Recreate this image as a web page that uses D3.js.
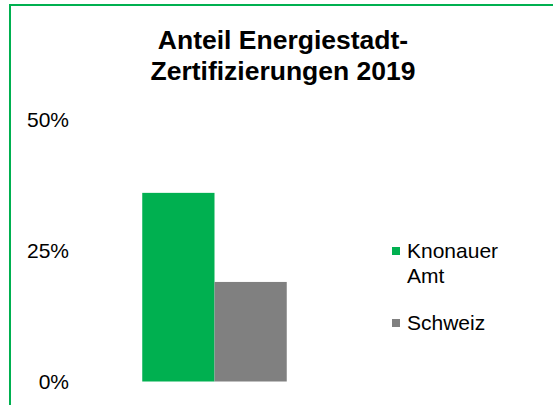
<!DOCTYPE html>
<html>
<head>
<meta charset="utf-8">
<script src="https://cdn.jsdelivr.net/npm/d3@7"></script>
<style>
  body { margin: 0; background: #fff; }
  svg { display: block; font-family: "Liberation Sans", Arial, sans-serif; }
</style>
</head>
<body>
<div id="chart"></div>
<script>
// data
var categories = ["2019"];
var seriesNames = ["Knonauer Amt", "Schweiz"];
var seriesValues = [0.36, 0.19];
var seriesColors = ["#00b050", "#808080"];
var tickValues = [0, 0.25, 0.5];
var tickLabels = ["0%", "25%", "50%"];
var titleLines = ["Anteil Energiestadt-", "Zertifizierungen 2019"];
var legendLines = [["Knonauer", "Amt"], ["Schweiz"]];

var width = 553, height = 405;

var svg = d3.select("#chart").append("svg")
  .attr("width", width)
  .attr("height", height);

// chart frame (runs off the right and bottom edge)
svg.append("rect")
  .attr("x", 10).attr("y", 5)
  .attr("width", 600).attr("height", 500)
  .attr("fill", "#fff")
  .attr("stroke", "#00b050")
  .attr("stroke-width", 2);

// title
svg.append("text")
  .attr("text-anchor", "middle")
  .style("font-weight", "bold")
  .style("font-size", "26.5px")
  .selectAll("tspan")
  .data(titleLines)
  .enter().append("tspan")
  .attr("x", 283)
  .attr("y", function(d, i) { return 49 + i * 31; })
  .text(function(d) { return d; });

var y = d3.scaleLinear()
  .domain([0, 0.5])
  .range([381.5, 119.5]);

var x0 = d3.scaleBand()
  .domain(categories)
  .range([70, 359])
  .paddingOuter(0.5);

var x1 = d3.scaleBand()
  .domain(seriesNames)
  .range([0, x0.bandwidth()]);

// y axis labels only
var yAxis = d3.axisLeft(y)
  .tickValues(tickValues)
  .tickSize(0)
  .tickPadding(0)
  .tickFormat(function(d, i) { return tickLabels[i]; });

var gy = svg.append("g")
  .attr("transform", "translate(69,0)")
  .call(yAxis);
gy.select(".domain").remove();
gy.selectAll("text")
  .attr("dy", "0.35em")
  .style("font-family", "'Liberation Sans', Arial, sans-serif")
  .style("font-size", "21px")
  .attr("fill", "#000");

// bars
svg.append("g")
  .selectAll("rect")
  .data(seriesNames.map(function(n, i) { return { name: n, value: seriesValues[i], cat: categories[0] }; }))
  .enter().append("rect")
  .attr("x", function(d) { return x0(d.cat) + x1(d.name); })
  .attr("y", function(d) { return y(d.value); })
  .attr("width", x1.bandwidth())
  .attr("height", function(d) { return y(0) - y(d.value); })
  .attr("fill", function(d, i) { return seriesColors[i]; });

// legend
var legendY = [251, 323];
var legend = svg.append("g").selectAll("g")
  .data(seriesNames)
  .enter().append("g")
  .attr("transform", function(d, i) { return "translate(392," + legendY[i] + ")"; });

legend.append("rect")
  .attr("x", 0).attr("y", -4)
  .attr("width", 8).attr("height", 8)
  .attr("fill", function(d, i) { return seriesColors[i]; });

legend.append("text")
  .style("font-size", "21px")
  .attr("fill", "#000")
  .selectAll("tspan")
  .data(function(d, i) { return legendLines[i]; })
  .enter().append("tspan")
  .attr("x", 15)
  .attr("y", function(d, j) { return 7 + j * 25; })
  .text(function(d) { return d; });
</script>
</body>
</html>
